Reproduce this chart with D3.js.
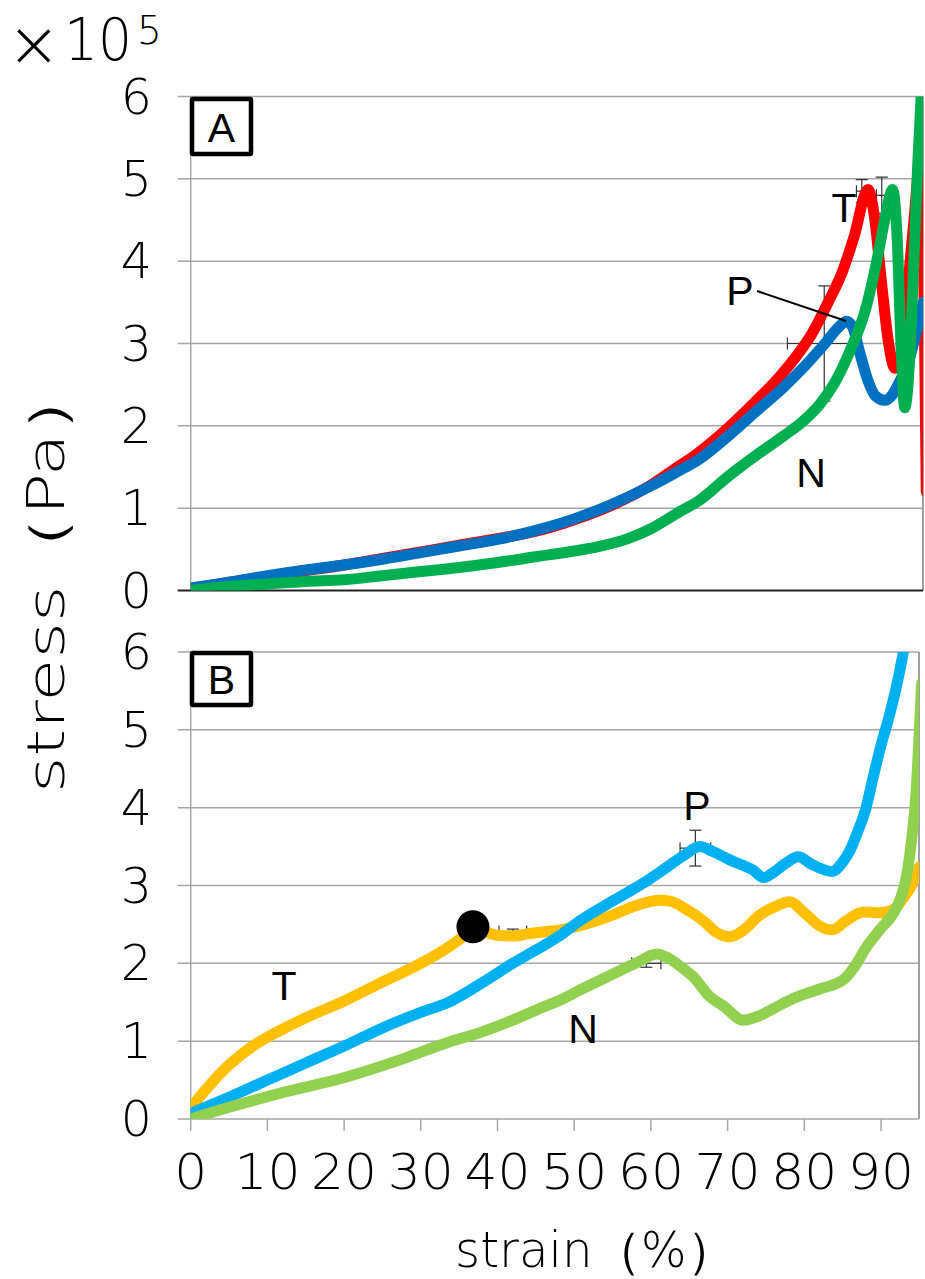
<!DOCTYPE html>
<html><head><meta charset="utf-8">
<script src="https://cdn.jsdelivr.net/npm/d3@7"></script>
<style>
body{margin:0;background:#fff;}
svg{display:block;}
.num{font-family:"DejaVu Sans",sans-serif;font-weight:200;}
.lab{font-family:"Liberation Sans",Arial,sans-serif;}
</style></head>
<body><svg id="c" width="925" height="1279"></svg>
<script>
// ---------- data ----------
const yTicks = [0,1,2,3,4,5,6];
const xTicks = [0,10,20,30,40,50,60,70,80,90];

// Panel A : [strain %, stress x10^5 Pa]
const A_T = [[0,0.02],[5,0.1],[10,0.17],[15,0.24],[20,0.31],[25,0.39],[30,0.47],[35,0.55],[40,0.63],[45,0.72],[50,0.86],[55,1.04],[60,1.28],[63,1.47],[66,1.66],[70,1.97],[74,2.33],[77,2.62],[79,2.85],[81,3.12],[83,3.48],[85,3.88],[86.5,4.3],[88.3,4.87],[89.2,4.5],[90,3.8],[91,3.0],[91.8,2.7],[92.5,2.8],[93.3,3.5],[94.3,4.5],[95.2,5.3],[95.9,1.2]];
const A_P = [[0,0.03],[5,0.1],[10,0.18],[15,0.25],[20,0.31],[25,0.38],[30,0.46],[35,0.54],[40,0.62],[45,0.73],[50,0.87],[55,1.05],[60,1.27],[63,1.42],[66.4,1.6],[70,1.87],[74,2.2],[77.2,2.46],[80,2.72],[82.7,3.0],[84.5,3.2],[85.5,3.27],[86.3,3.2],[87.2,2.9],[88.3,2.55],[89.3,2.36],[90.5,2.31],[91.5,2.38],[92.5,2.55],[93.5,2.75],[94.5,3.1],[95.5,3.5]];
const A_N = [[0,0],[5,0.05],[10,0.08],[15,0.11],[20,0.13],[25,0.18],[30,0.23],[35,0.28],[40,0.34],[45,0.41],[50,0.48],[53,0.53],[57,0.63],[60,0.75],[63.8,0.96],[66.4,1.1],[70,1.38],[74,1.66],[77.2,1.87],[80,2.07],[82,2.26],[84,2.53],[86,2.92],[88,3.42],[89.4,3.98],[90.6,4.55],[91.5,4.87],[92.1,4.3],[92.6,3.0],[93.1,2.22],[93.6,2.6],[94.2,3.8],[94.8,5.2],[95.4,6.3]];
// error bars A: [x, y, xerr, yerr]
const A_err = [[82.6,3.0,4.8,0.7],[87.5,4.85,0.7,0.14],[90.1,4.8,0.7,0.22]];

// Panel B
const B_T = [[0,0.14],[2,0.38],[4,0.6],[6,0.78],[8,0.93],[10,1.05],[12.5,1.18],[15,1.3],[20.3,1.53],[25,1.76],[30,2.0],[33,2.17],[35.5,2.34],[36.8,2.44],[38.5,2.4],[40,2.36],[42,2.35],[44,2.38],[46.4,2.41],[48.2,2.43],[52,2.52],[55,2.62],[58,2.74],[61.2,2.81],[62.5,2.8],[64.5,2.7],[66.9,2.54],[68.5,2.4],[70.3,2.34],[72,2.42],[74.2,2.62],[76,2.72],[78.1,2.79],[80,2.65],[82,2.48],[83.6,2.43],[85.5,2.55],[87.7,2.66],[89.5,2.65],[90.7,2.66],[92,2.72],[92.9,2.84],[94,3.0],[95,3.24]];
const B_P = [[0,0.07],[5,0.28],[10,0.5],[15,0.72],[20.3,0.95],[25,1.17],[30,1.37],[33.4,1.49],[38,1.75],[42,2.0],[45,2.17],[48.2,2.36],[50.8,2.55],[55,2.8],[59,3.03],[62,3.23],[64.5,3.4],[66.4,3.5],[68,3.44],[70.7,3.31],[73.3,3.2],[74.7,3.1],[76,3.17],[77.5,3.28],[79.2,3.37],[81,3.27],[83.6,3.18],[85,3.3],[86,3.46],[87,3.7],[88,3.98],[89,4.4],[90,4.8],[91,5.15],[92,5.55],[93.3,6.2]];
const B_N = [[0,0],[5,0.15],[11.6,0.33],[20.3,0.54],[27,0.75],[33.4,0.98],[38,1.12],[42,1.27],[46,1.44],[48.2,1.53],[50.8,1.66],[55,1.86],[58,2.0],[60.8,2.12],[62,2.08],[64,1.95],[65.5,1.83],[67.7,1.57],[69.5,1.45],[72,1.27],[74,1.32],[76,1.42],[78.6,1.55],[82,1.67],[85.1,1.79],[86.5,1.95],[88.1,2.21],[90,2.45],[91.6,2.64],[92.6,2.85],[93.4,3.16],[94,3.6],[94.6,4.23],[95,5.0],[95.3,5.6]];
const B_err = [[65.8,3.48,2.0,0.23],[59.4,2.0,1.9,0.05],[42.0,2.41,1.8,0.03]];
const B_dot = [[36.8,2.47]];

// ---------- layout ----------
const svg = d3.select("#c");
const X0 = 190.7;
const panels = [
  {id:"A", top:96.5, bot:590.5, right:923, xmax:(923-190.7)/7.67, series:[[A_T,"#FF0000"],[A_P,"#0070C0"],[A_N,"#00B050"]], err:A_err, xt:false, box:[190,97,253,156]},
  {id:"B", top:652, bot:1119, right:919, xmax:(919-190.7)/7.67, series:[[B_T,"#FFC000"],[B_P,"#00B0F0"],[B_N,"#92D050"]], err:B_err, xt:true, box:[190,651,253,707]}
];

panels.forEach((p,i)=>{
  const x = d3.scaleLinear().domain([0,p.xmax]).range([X0,p.right]);
  const y = d3.scaleLinear().domain([0,6]).range([p.bot,p.top]);
  p.x=x; p.y=y;
  const g = svg.append("g");
  g.append("g").selectAll("line").data(yTicks.slice(1)).join("line")
    .attr("x1",X0-13).attr("x2",p.right).attr("y1",d=>y(d)).attr("y2",d=>y(d))
    .attr("stroke","#a6a6a6").attr("stroke-width",1.5);
  g.append("g").selectAll("text").data(yTicks).join("text").attr("class","num")
    .attr("x",152).attr("y",d=>y(d)+17).attr("text-anchor","end")
    .attr("font-size",49).text(d=>d);
  g.append("line").attr("x1",p.right).attr("x2",p.right).attr("y1",p.top).attr("y2",p.bot)
    .attr("stroke","#808080").attr("stroke-width",1.5);
  g.append("line").attr("x1",X0).attr("x2",X0).attr("y1",p.top).attr("y2",p.bot)
    .attr("stroke","#a6a6a6").attr("stroke-width",1.5);
  g.append("line").attr("x1",X0-13).attr("x2",p.right).attr("y1",p.bot).attr("y2",p.bot)
    .attr("stroke", i===0 ? "#222" : "#a6a6a6").attr("stroke-width", i===0?2:1.5);
  if(p.xt){
    g.append("g").selectAll("line").data(xTicks).join("line")
      .attr("x1",d=>x(d)).attr("x2",d=>x(d)).attr("y1",p.bot).attr("y2",p.bot+12)
      .attr("stroke","#a6a6a6").attr("stroke-width",1.5);
    g.append("g").selectAll("text").data(xTicks).join("text").attr("class","num")
      .attr("x",d=>x(d)).attr("y",1189).attr("text-anchor","middle")
      .attr("font-size",50)
      .attr("textLength",d=>String(d).length*33).attr("lengthAdjust","spacingAndGlyphs")
      .text(d=>d);
  }
  const cid="clip"+p.id;
  svg.append("clipPath").attr("id",cid).append("rect")
    .attr("x",X0).attr("y",p.top).attr("width",p.right-X0).attr("height",p.bot-p.top);
  const pg = svg.append("g").attr("clip-path",`url(#${cid})`);
  const eb = pg.append("g").attr("stroke","#333").attr("stroke-width",1.2).attr("fill","none");
  p.err.forEach(e=>{
    const [ex,ey,dx,dy]=e, c=6;
    eb.append("line").attr("x1",x(ex)).attr("x2",x(ex)).attr("y1",y(ey-dy)).attr("y2",y(ey+dy));
    eb.append("line").attr("x1",x(ex)-c).attr("x2",x(ex)+c).attr("y1",y(ey-dy)).attr("y2",y(ey-dy));
    eb.append("line").attr("x1",x(ex)-c).attr("x2",x(ex)+c).attr("y1",y(ey+dy)).attr("y2",y(ey+dy));
    eb.append("line").attr("x1",x(ex-dx)).attr("x2",x(ex+dx)).attr("y1",y(ey)).attr("y2",y(ey));
    eb.append("line").attr("x1",x(ex-dx)).attr("x2",x(ex-dx)).attr("y1",y(ey)-c).attr("y2",y(ey)+c);
    eb.append("line").attr("x1",x(ex+dx)).attr("x2",x(ex+dx)).attr("y1",y(ey)-c).attr("y2",y(ey)+c);
  });
  const line = d3.line().x(d=>x(d[0])).y(d=>y(d[1])).curve(d3.curveMonotoneX);
  p.series.forEach(([data,col])=>{
    pg.append("path").datum(data).attr("d",line).attr("fill","none")
      .attr("stroke",col).attr("stroke-width",11).attr("stroke-linejoin","round").attr("stroke-linecap","round");
  });
  const [bx1,by1,bx2,by2]=p.box;
  svg.append("rect").attr("x",bx1+2).attr("y",by1+2).attr("width",bx2-bx1-4).attr("height",by2-by1-4)
    .attr("fill","#fff").attr("stroke","#000").attr("stroke-width",4.5).attr("rx",1);
  svg.append("text").attr("class","lab").attr("x",(bx1+bx2)/2).attr("y",(by1+by2)/2+15)
    .attr("text-anchor","middle").attr("font-size",41).text(p.id);
});

const pB = panels[1];
svg.append("g").selectAll("circle").data(B_dot).join("circle")
  .attr("cx",d=>pB.x(d[0])).attr("cy",d=>pB.y(d[1])).attr("r",16.5).attr("fill","#000");

const labs = [
  ["T",844,222],["P",740,305],["N",811,487],
  ["P",697,820],["T",284,1000],["N",583,1043]
];
svg.append("g").selectAll("text").data(labs).join("text").attr("class","lab")
  .attr("x",d=>d[1]).attr("y",d=>d[2]).attr("text-anchor","middle")
  .attr("font-size",41).text(d=>d[0]);
svg.append("line").attr("x1",757).attr("y1",291).attr("x2",846).attr("y2",321)
  .attr("stroke","#000").attr("stroke-width",2);

// multiplier
svg.append("text").attr("class","num").attr("x",7).attr("y",66).attr("font-size",64).text("×");
svg.append("text").attr("class","num").attr("x",64).attr("y",60).attr("font-size",58)
  .attr("textLength",68).attr("lengthAdjust","spacingAndGlyphs").text("10");
svg.append("text").attr("class","num").attr("x",137).attr("y",44).attr("font-size",39).text("5");

// axis titles
svg.append("text").attr("class","num").attr("x",595).attr("y",1267).attr("text-anchor","middle")
  .attr("font-size",50).attr("textLength",280).attr("lengthAdjust","spacingAndGlyphs").text("strain（%）");
svg.append("text").attr("class","num").attr("transform","translate(64,578) rotate(-90)")
  .attr("text-anchor","middle").attr("font-size",52)
  .attr("textLength",430).attr("lengthAdjust","spacingAndGlyphs").text("stress（Pa）");
</script></body></html>
